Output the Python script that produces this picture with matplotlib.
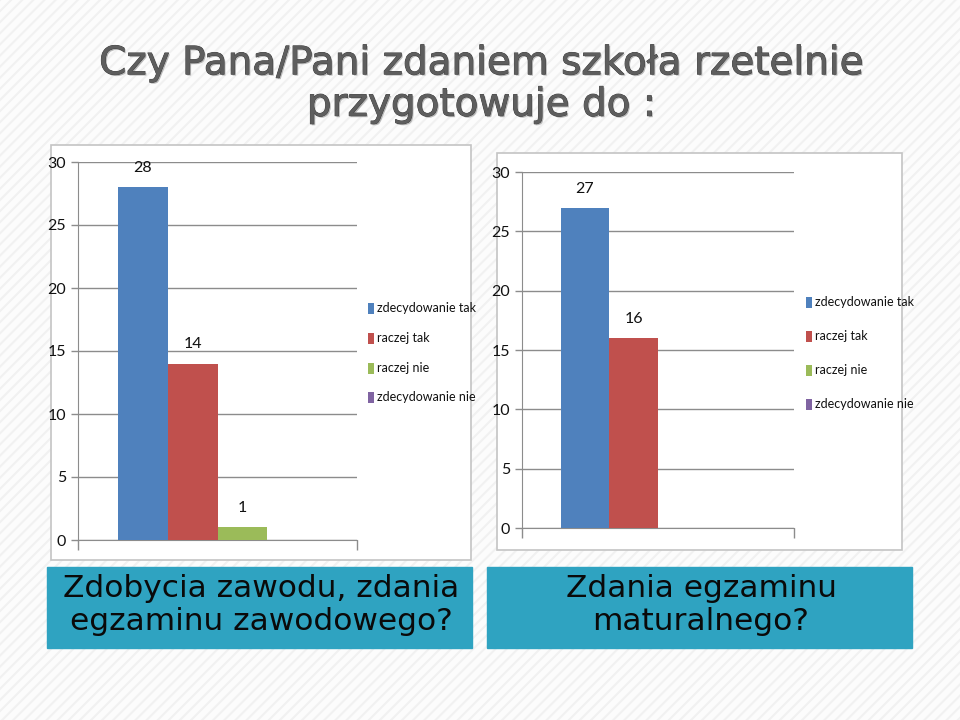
import matplotlib
matplotlib.use("Agg")
import matplotlib.pyplot as plt
import matplotlib.patches as mpatches
import matplotlib.patheffects as pe

# ---- data ----
series = ["zdecydowanie tak", "raczej tak", "raczej nie", "zdecydowanie nie"]
colors = ["#4F81BD", "#C0504D", "#9BBB59", "#8064A2"]
values_zawod = [28, 14, 1, 0]
values_matura = [27, 16, 0, 0]
yticks = [0, 5, 10, 15, 20, 25, 30]
title = "Czy Pana/Pani zdaniem szkoła rzetelnie\nprzygotowuje do :"
caption_left = "Zdobycia zawodu, zdania\negzaminu zawodowego?"
caption_right = "Zdania egzaminu\nmaturalnego?"

W, H = 960, 720
fig = plt.figure(figsize=(W / 100, H / 100), dpi=100)
fig.patch.set_facecolor("#FCFCFC")

# background hatch (faint diagonal stripes)
bg = fig.add_axes([0, 0, 1, 1], zorder=-10)
bg.set_xlim(0, 1); bg.set_ylim(0, 1); bg.axis("off")
plt.rcParams["hatch.color"] = "#F1F1F1"
plt.rcParams["hatch.linewidth"] = 1.5
bg.add_patch(mpatches.Rectangle((0, 0), 1, 1, facecolor="#FCFCFC", edgecolor="#F1F1F1",
                                hatch="///", lw=0, transform=bg.transAxes))

def px_rect(x0, y0, x1, y1):
    return [x0 / W, 1 - y1 / H, (x1 - x0) / W, (y1 - y0) / H]

def box(x0, y0, x1, y1, fc, ec, lw=1.0):
    r = mpatches.Rectangle((x0 / W, 1 - y1 / H), (x1 - x0) / W, (y1 - y0) / H,
                           transform=fig.transFigure, facecolor=fc, edgecolor=ec, lw=lw, zorder=-5)
    fig.add_artist(r)

# chart panels
box(51, 145, 471, 560, "white", "#C4C4C4", 1.2)
box(497, 153, 902, 550, "white", "#C4C4C4", 1.2)

narrow = ["Liberation Sans Narrow", "Lato", "DejaVu Sans"]

def draw_chart(rect, values, legend_x, legend_ys):
    ax = fig.add_axes(rect)
    ax.set_facecolor("none")
    n = len(values)
    bw = 0.179
    for i, (v, c) in enumerate(zip(values, colors)):
        x = (i - (n - 1) / 2) * bw
        ax.bar(x, v, width=bw, color=c, zorder=3)
        if v:
            ax.text(x, v + 1.0, str(v), ha="center", va="bottom", fontsize=11.5,
                    family=narrow, color="#111111")
    ax.set_xlim(-0.5, 0.5)
    ax.set_ylim(0, 30)
    ax.set_yticks(yticks)
    ax.set_yticklabels([str(t) for t in yticks], family=narrow, fontsize=11.5, color="#111111")
    ax.yaxis.grid(True, color="#8C8C8C", lw=1.0, zorder=0)
    ax.set_xticks([-0.5, 0.5])
    ax.set_xticklabels(["", ""])
    ax.tick_params(axis="x", length=7, color="#8C8C8C", width=1)
    ax.tick_params(axis="y", length=5, color="#8C8C8C", width=1, pad=3.5)
    for s in ["top", "right"]:
        ax.spines[s].set_visible(False)
    for s in ["left", "bottom"]:
        ax.spines[s].set_color("#8C8C8C")
    # legend drawn manually at pixel positions
    for lab, c, ly in zip(series, colors, legend_ys):
        fig.add_artist(mpatches.Rectangle((legend_x / W, 1 - (ly + 6) / H), 6 / W, 11 / H,
                                          transform=fig.transFigure, facecolor=c, lw=0))
        fig.text((legend_x + 9) / W, 1 - ly / H, lab, ha="left", va="center",
                 fontsize=9, family=narrow, color="#111111")
    return ax

draw_chart(px_rect(78, 162, 357, 540), values_zawod, 368, [308, 338, 368, 397])
draw_chart(px_rect(522, 172, 794, 528), values_matura, 806, [302, 336, 370, 404])

# caption boxes
box(47, 567, 472, 648, "#2FA3C1", "#2FA3C1")
box(487, 567, 912, 648, "#2FA3C1", "#2FA3C1")
fig.text(261 / W, 1 - 605 / H, caption_left, ha="center", va="center", fontsize=22.5,
         family="DejaVu Sans", color="#0A0A0A", linespacing=1.18)
fig.text(701 / W, 1 - 605 / H, caption_right, ha="center", va="center", fontsize=22.5,
         family="DejaVu Sans", color="#0A0A0A", linespacing=1.18)

# title
fig.text(481 / W, 1 - 84 / H, title, ha="center", va="center", fontsize=28,
         family="DejaVu Sans", color="#5E5E5E", linespacing=1.12,
         path_effects=[pe.withSimplePatchShadow(offset=(1.0, -1.0), shadow_rgbFace="#B0B0B0", alpha=0.9),
                       pe.withStroke(linewidth=0.6, foreground="#404040")])

fig.savefig("out.png", dpi=100, facecolor=fig.get_facecolor())
